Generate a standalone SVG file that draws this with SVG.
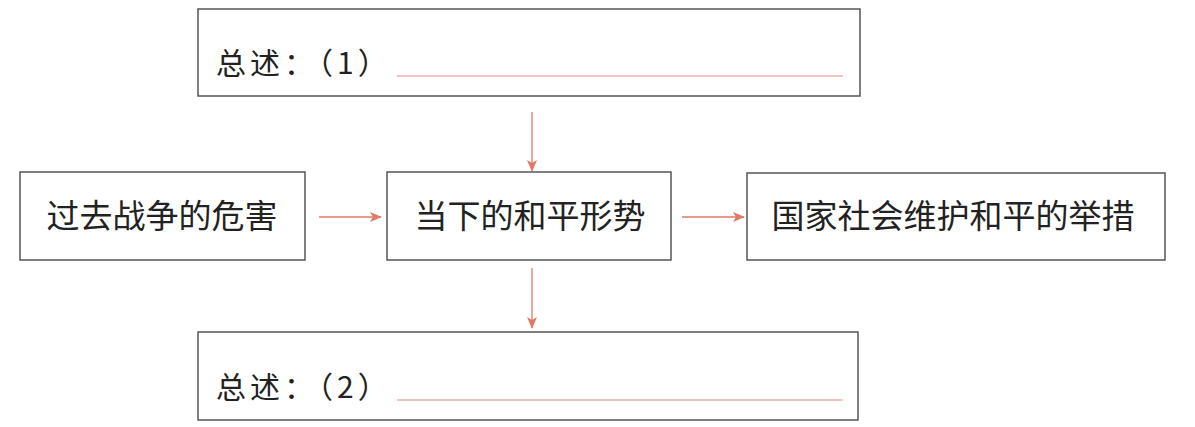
<svg xmlns="http://www.w3.org/2000/svg" width="1195" height="427" viewBox="0 0 1195 427">
<style>
.box{fill:#fff;stroke:#555;stroke-width:1.5}
.t{font-family:"Noto Sans CJK SC","Noto Sans",sans-serif;font-size:33px;fill:#222;text-anchor:middle}
.s{font-family:"Noto Sans CJK SC","Noto Sans",sans-serif;font-size:30px;fill:#222;letter-spacing:4px}
.blank{stroke:#e58a80;stroke-width:1.2}
.c{stroke:#e07a66;stroke-width:1.3;fill:none;marker-end:url(#ah)}
</style>
<defs>
<marker id="ah" markerWidth="12" markerHeight="10" refX="11" refY="5" orient="auto" markerUnits="userSpaceOnUse">
<path d="M0,0 L12,5 L0,10 L3,5 Z" fill="#e07a66"/>
</marker>
</defs>
<rect width="1195" height="427" fill="#fff"/>
<g id="summary1">
<rect class="box" x="198" y="9" width="662" height="87"/>
<text class="s" x="216" y="74">总述：（1）</text>
<line class="blank" x1="397" y1="76" x2="843" y2="76"/>
</g>
<g id="past">
<rect class="box" x="20" y="172" width="285" height="88"/>
<text class="t" x="162" y="228">过去战争的危害</text>
</g>
<g id="present">
<rect class="box" x="387" y="172" width="284" height="88"/>
<text class="t" x="530" y="228">当下的和平形势</text>
</g>
<g id="measures">
<rect class="box" x="747" y="173" width="418" height="87"/>
<text class="t" x="953" y="228">国家社会维护和平的举措</text>
</g>
<g id="summary2">
<rect class="box" x="198" y="332" width="660" height="88"/>
<text class="s" x="216" y="398">总述：（2）</text>
<line class="blank" x1="397" y1="400" x2="843" y2="400"/>
</g>
<g id="connectors">
<line class="c" x1="532" y1="112" x2="532" y2="171"/>
<line class="c" x1="319" y1="217" x2="381" y2="217"/>
<line class="c" x1="682" y1="217" x2="744" y2="217"/>
<line class="c" x1="532" y1="268" x2="532" y2="328"/>
</g>
</svg>
